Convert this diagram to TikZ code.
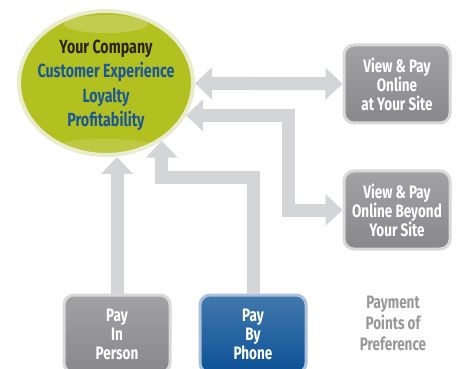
\documentclass[tikz,border=0pt]{standalone}
\usepackage{fontspec}
\setmainfont{Fira Sans}
\newfontfamily\condbold{Fira Sans}[FakeStretch=0.75]
\usetikzlibrary{arrows.meta, shapes.geometric}

\definecolor{companygreen}{RGB}{178,192,32}
\definecolor{companyrim}{RGB}{232,236,204}
\definecolor{darktext}{RGB}{42,36,20}
\definecolor{bluetext}{RGB}{28,88,150}
\definecolor{pipegrey}{RGB}{212,213,215}
\definecolor{boxgrey}{RGB}{136,136,139}
\definecolor{boxgreyrim}{RGB}{216,216,217}
\definecolor{boxblue}{RGB}{12,82,150}
\definecolor{boxbluerim}{RGB}{172,192,222}
\definecolor{captiongrey}{RGB}{152,152,154}

\begin{document}
\begin{tikzpicture}[
        x=1pt, y=-1pt,
        box/.style = {rectangle, rounded corners=10pt, draw=#1rim, line width=3pt,
                    top color=#1!78!white, bottom color=#1, text=white, align=center,
                    minimum width=106pt, minimum height=78pt,
                    font=\condbold\bfseries\fontsize{18}{19}\selectfont},
        pipe/.style = {draw=pipegrey, line width=13pt, line join=miter},
        tip/.style = {-{Triangle[width=31pt,length=17pt]}},
        tips/.style = {{Triangle[width=31pt,length=17pt]}-{Triangle[width=31pt,length=17pt]}}
                    ]
        \path[use as bounding box, clip] (0,0) rectangle (456,369);
        \fill[white] (0,0) rectangle (456,369);
        \node (company) [ellipse, draw=companyrim, line width=4pt, fill=companygreen,
                    inner sep=0pt, minimum width=174pt, minimum height=144pt] at (106,83) {};
        \fill[white, opacity=0.22] (106,24) ellipse [x radius=42pt, y radius=9pt];
        \fill[white, opacity=0.15] (106,146) ellipse [x radius=50pt, y radius=7pt];
        \node (slogan) [align=center, text=bluetext,
                    font=\condbold\bfseries\fontsize{19}{24.3}\selectfont]
                    at ([yshift=-2.5pt]company.center)
                    {\textcolor{darktext}{Your Company}\\Customer Experience\\Loyalty\\Profitability};
        \node (site) [box=boxgrey] at (397,84) {View \& Pay\\Online\\at Your Site};
        \node (beyond) [box=boxgrey] at (397,210) {View \& Pay\\Online Beyond\\Your Site};
        \node (person) [box=boxgrey] at (117,334) {Pay\\In\\Person};
        \node (phone) [box=boxblue] at (253,334) {Pay\\By\\Phone};
        \node (caption) [align=center, text=captiongrey,
                    font=\condbold\bfseries\fontsize{18}{21}\selectfont] at (393,323) {Payment\\Points of\\Preference};
        %
        \coordinate (elbowA) at (288,115);
        \coordinate (hookB) at (0,178);
        \draw[pipe, tips] (company) -- (site);
        \draw[pipe, tips] (company.-22) -- (company.-22 -| elbowA) |- (beyond);
        \draw[pipe, tip] (person) -- (person.north |- company.south);
        \draw[pipe, tip] (phone.north) |- (company.-46.5 |- hookB) -- (company.-46.5);
    \end{tikzpicture}
\end{document}
